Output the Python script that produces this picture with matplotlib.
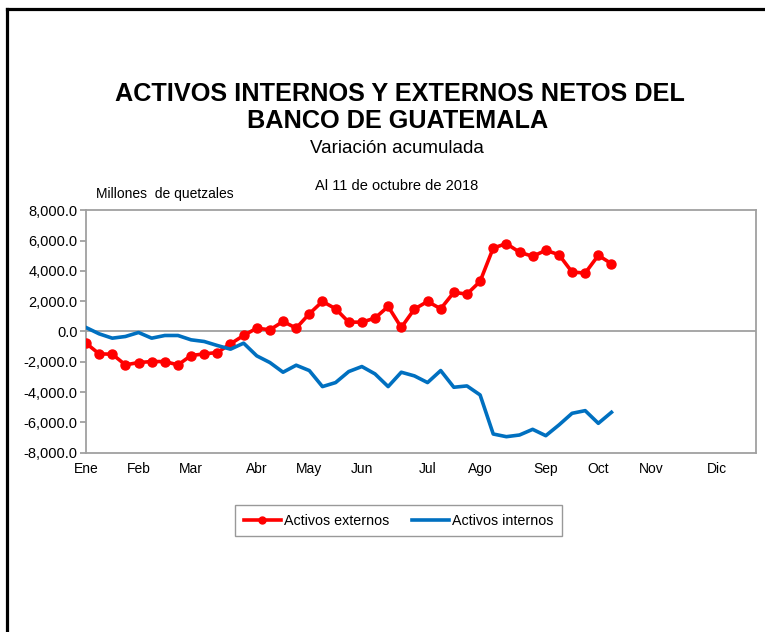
import matplotlib
matplotlib.use("Agg")
import matplotlib.pyplot as plt
from matplotlib.lines import Line2D

plt.rcParams['font.family'] = ['Liberation Sans', 'DejaVu Sans']

# weekly data, 4 Jan - 11 Oct 2018 (millones de quetzales)
externos = [-771, -1477, -1499, -2204, -2050, -1984, -1984, -2204, -1587, -1477,
            -1389, -815, -264, 220, 110, 661, 220, 1168, 1984, 1499,
            617, 617, 882, 1653, 265, 1477, 1984, 1499, 2579, 2468,
            3306, 5510, 5797, 5235, 4959, 5356, 5069, 3923, 3857, 5025,
            4474]
internos = [264, -154, -441, -331, -66, -441, -264, -264, -551, -661,
            -926, -1168, -771, -1609, -2050, -2689, -2226, -2579, -3637, -3372,
            -2645, -2314, -2799, -3637, -2689, -2931, -3372, -2579, -3681, -3593,
            -4188, -6766, -6943, -6832, -6458, -6877, -6171, -5400, -5224, -6061,
            -5334]
meses = ["Ene", "Feb", "Mar", "Abr", "May", "Jun", "Jul", "Ago", "Sep", "Oct", "Nov", "Dic"]
semana_mes = [0, 4, 8, 13, 17, 21, 26, 30, 35, 39, 43, 48]

semanas = list(range(len(externos)))

fig = plt.figure(figsize=(7.65, 6.32), dpi=100)
ax = fig.add_axes([0.1124, 0.2837, 0.8758, 0.3836])

ax.plot(semanas, externos, color="#FF0000", lw=2.6, marker="o", ms=6.5,
        label="Activos externos", zorder=3)
ax.plot(semanas, internos, color="#0070C0", lw=2.6, label="Activos internos", zorder=3)

ax.axhline(0, color="#A0A0A0", lw=1.3, zorder=1)
ax.set_xlim(0, 51)
ax.set_ylim(-8000, 8000)
ax.set_yticks(range(-8000, 8001, 2000))
ax.set_yticklabels(["{:,.1f}".format(v) for v in range(-8000, 8001, 2000)], fontsize=10.5)
ax.set_xticks(semana_mes)
ax.set_xticklabels(meses, fontsize=10)
ax.tick_params(axis='x', length=0, pad=7)
ax.tick_params(axis='y', length=4, color="#A0A0A0", width=1.3, pad=2)
for s in ax.spines.values():
    s.set_color("#A0A0A0")
    s.set_linewidth(1.3)

fig.text(0.523, 0.851, "ACTIVOS INTERNOS Y EXTERNOS NETOS DEL", ha="center", va="center",
         fontsize=18.2, fontweight="bold")
fig.text(0.520, 0.808, "BANCO DE GUATEMALA", ha="center", va="center",
         fontsize=18.2, fontweight="bold")
fig.text(0.519, 0.765, "Variación acumulada", ha="center", va="center", fontsize=13.5)
fig.text(0.519, 0.706, "Al 11 de octubre de 2018", ha="center", va="center", fontsize=10.5)
fig.text(0.126, 0.693, "Millones  de quetzales", ha="left", va="center", fontsize=10)

handles = [Line2D([], [], color="#FF0000", lw=2.6, marker="o", ms=5),
           Line2D([], [], color="#0070C0", lw=2.6)]
leg = fig.legend(handles, ["Activos externos", "Activos internos"], loc="center",
                 bbox_to_anchor=(0.521, 0.176), ncol=2, fontsize=10.3, frameon=True,
                 fancybox=False, edgecolor="#808080", handlelength=2.6,
                 handletextpad=0.2, columnspacing=1.6, borderpad=0.6)
leg.get_frame().set_linewidth(1.0)

# outer frame (top and left edges)
fig.add_artist(Line2D([0.0088, 1.0], [0.9858, 0.9858], color="black", lw=2.3,
                      transform=fig.transFigure))
fig.add_artist(Line2D([0.0088, 0.0088], [0.0, 0.9858], color="black", lw=2.3,
                      transform=fig.transFigure))

fig.savefig("out.png", dpi=100)
